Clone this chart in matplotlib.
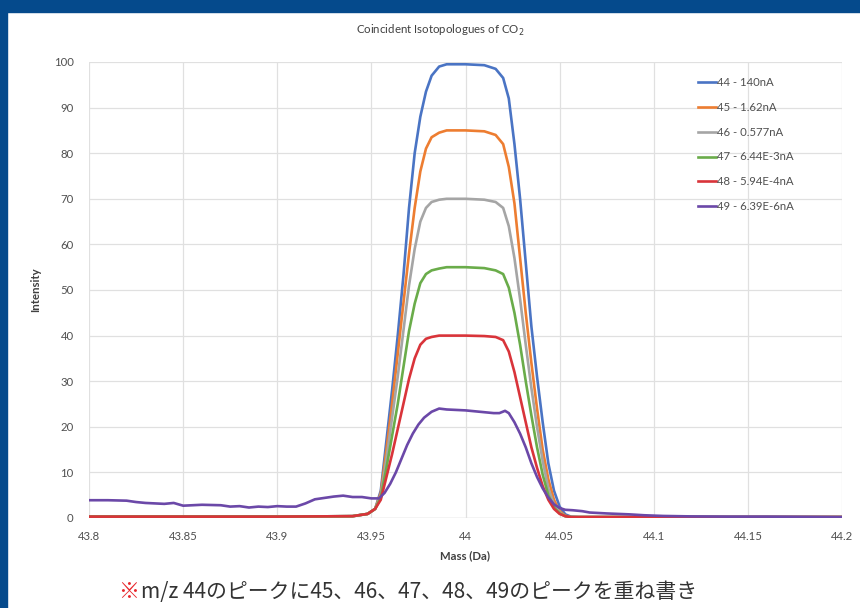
import matplotlib
matplotlib.use("Agg")
import matplotlib.pyplot as plt
from matplotlib.patches import Rectangle

# shared mass grid for the five main peaks
mass = [43.80, 43.90, 43.94, 43.948, 43.952, 43.955, 43.958, 43.961, 43.964, 43.967,
        43.970, 43.973, 43.976, 43.979, 43.982, 43.986, 43.99, 44.00, 44.01, 44.016,
        44.020, 44.023, 44.026, 44.029, 44.032, 44.035, 44.038, 44.041, 44.044, 44.047,
        44.050, 44.053, 44.056, 44.06, 44.10, 44.20]

m44 = [0.3, 0.3, 0.4, 0.9, 2, 6, 17, 28, 40, 53, 68, 80, 88, 93.5, 97, 99, 99.5, 99.5, 99.3, 98.5,
       96.5, 92, 82, 70, 56, 42, 31, 21, 12, 6, 2.5, 0.8, 0.3, 0.2, 0.2, 0.2]
m45 = [0.3, 0.3, 0.4, 0.9, 2, 5.5, 15, 25, 36, 47, 58, 68, 76, 81, 83.5, 84.5, 85, 85, 84.8, 84,
       82, 77, 69, 57, 45, 34, 24, 15, 8.5, 4, 1.5, 0.5, 0.2, 0.2, 0.2, 0.2]
m46 = [0.3, 0.3, 0.4, 0.9, 2, 5, 13, 22, 31, 41, 51, 59, 65, 68, 69.3, 69.8, 70, 70, 69.8, 69.3,
       68, 64, 57, 48, 38, 28.5, 20, 12.5, 6.5, 3, 1.2, 0.4, 0.2, 0.2, 0.2, 0.2]
m47 = [0.3, 0.3, 0.4, 0.9, 2, 4.5, 11, 18, 25, 33, 41, 47, 51.5, 53.5, 54.3, 54.7, 55, 55, 54.8, 54.3,
       53.5, 50.5, 45, 38, 30, 22.5, 15.5, 9.5, 5, 2.3, 1, 0.4, 0.2, 0.2, 0.2, 0.2]
m48 = [0.3, 0.3, 0.4, 0.9, 2, 4, 9, 14, 19.5, 25, 30.5, 35, 38, 39.3, 39.7, 40, 40, 40, 39.9, 39.7,
       39, 36.5, 32, 26.5, 21, 15.5, 11, 7, 4, 2, 0.9, 0.4, 0.2, 0.2, 0.2, 0.2]

# m/z 49 has its own grid (noisy baseline)
mass49 = [43.80, 43.81, 43.82, 43.825, 43.83, 43.84, 43.845, 43.85, 43.86, 43.87, 43.875, 43.88,
          43.885, 43.89, 43.895, 43.90, 43.905, 43.91, 43.915, 43.92, 43.925, 43.93, 43.935, 43.94,
          43.945, 43.95, 43.954, 43.957, 43.960, 43.963, 43.966, 43.969, 43.972, 43.975, 43.978,
          43.982, 43.986, 43.99, 44.00, 44.01, 44.015, 44.018, 44.021, 44.023, 44.026, 44.029,
          44.032, 44.035, 44.038, 44.041, 44.044, 44.047, 44.050, 44.053, 44.057, 44.062, 44.066,
          44.075, 44.087, 44.095, 44.105, 44.12, 44.14, 44.16, 44.18, 44.20]
m49 = [3.9, 3.9, 3.8, 3.5, 3.3, 3.1, 3.3, 2.7, 2.9, 2.8, 2.5, 2.6,
       2.3, 2.5, 2.4, 2.6, 2.5, 2.5, 3.2, 4.1, 4.4, 4.7, 4.9, 4.6,
       4.6, 4.3, 4.3, 5.5, 7.5, 10, 13, 16, 18.5, 20.5, 22,
       23.3, 24, 23.8, 23.6, 23.2, 23.0, 23.0, 23.5, 23.0, 21, 18.5,
       15.5, 12, 9, 6.5, 4.5, 3, 2.2, 1.8, 1.7, 1.5, 1.2,
       1.0, 0.8, 0.6, 0.45, 0.35, 0.3, 0.3, 0.25, 0.2]

labels = ["44 - 140nA", "45 - 1.62nA", "46 - 0.577nA", "47 - 6.44E-3nA", "48 - 5.94E-4nA", "49 - 6.39E-6nA"]
colors = ["#4a74c4", "#ed7d31", "#a5a5a5", "#6aac4a", "#d9343a", "#6b48a8"]
xticks = [43.8, 43.85, 43.9, 43.95, 44, 44.05, 44.1, 44.15, 44.2]
xticklabels = ["43.8", "43.85", "43.9", "43.95", "44", "44.05", "44.1", "44.15", "44.2"]
yticks = [0, 10, 20, 30, 40, 50, 60, 70, 80, 90, 100]

plt.rcParams['font.family'] = ['Lato', 'DejaVu Sans']

fig = plt.figure(figsize=(8.6, 6.08), dpi=100)
fig.patch.set_facecolor("white")
# blue frame on the left and top
fig.patches.append(Rectangle((0, 0), 7 / 860, 1, transform=fig.transFigure, color="#054a8c", zorder=0))
fig.patches.append(Rectangle((0, 1 - 12 / 608), 1, 12 / 608, transform=fig.transFigure, color="#054a8c", zorder=0))

ax = fig.add_axes([89 / 860, 90 / 608, 753 / 860, 456 / 608])
series = [m44, m45, m46, m47, m48]
for i in range(5):
    ax.plot(mass, series[i], color=colors[i], lw=1.9, label=labels[i])
ax.plot(mass49, m49, color=colors[5], lw=1.9, label=labels[5])

ax.set_xlim(43.8, 44.2)
ax.set_ylim(0, 100)
ax.set_xticks(xticks)
ax.set_xticklabels(xticklabels)
ax.set_yticks(yticks)
ax.tick_params(length=0, labelsize=8.2, labelcolor="#505050")
ax.tick_params(axis="y", pad=11)
ax.tick_params(axis="x", pad=9)
ax.grid(True, color="#e0e0e0", lw=0.9)
ax.set_axisbelow(True)
for s in ax.spines.values():
    s.set_visible(False)
ax.axhline(0, color="#cfcfcf", lw=0.9, zorder=0)

ax.set_xlabel("Mass (Da)", fontsize=8.2, fontweight="bold", color="#404040", labelpad=6)
ax.set_ylabel("Intensity", fontsize=8.2, fontweight="bold", color="#404040", labelpad=9)
fig.text(440 / 860, 1 - 30 / 608, "Coincident Isotopologues of CO$_2$", fontsize=8.3, color="#404040",
         ha="center", va="center")

leg = ax.legend(loc="upper left", bbox_to_anchor=(0.795, 0.99), frameon=False, fontsize=8.2,
                handlelength=1.6, handletextpad=0.1, labelspacing=1.22)
for t in leg.get_texts():
    t.set_color("#505050")

fig.text(118 / 860, 1 - 592 / 608, "※", color="#e8262b", fontsize=15,
         family=["Noto Sans CJK JP", "DejaVu Sans"], va="center", ha="left")
fig.text(141 / 860, 1 - 592 / 608, "m/z 44のピークに45、46、47、48、49のピークを重ね書き", color="#333333",
         fontsize=15, family=["Noto Sans CJK JP", "DejaVu Sans"], va="center", ha="left")

fig.savefig("out.png", dpi=100, facecolor="white")
